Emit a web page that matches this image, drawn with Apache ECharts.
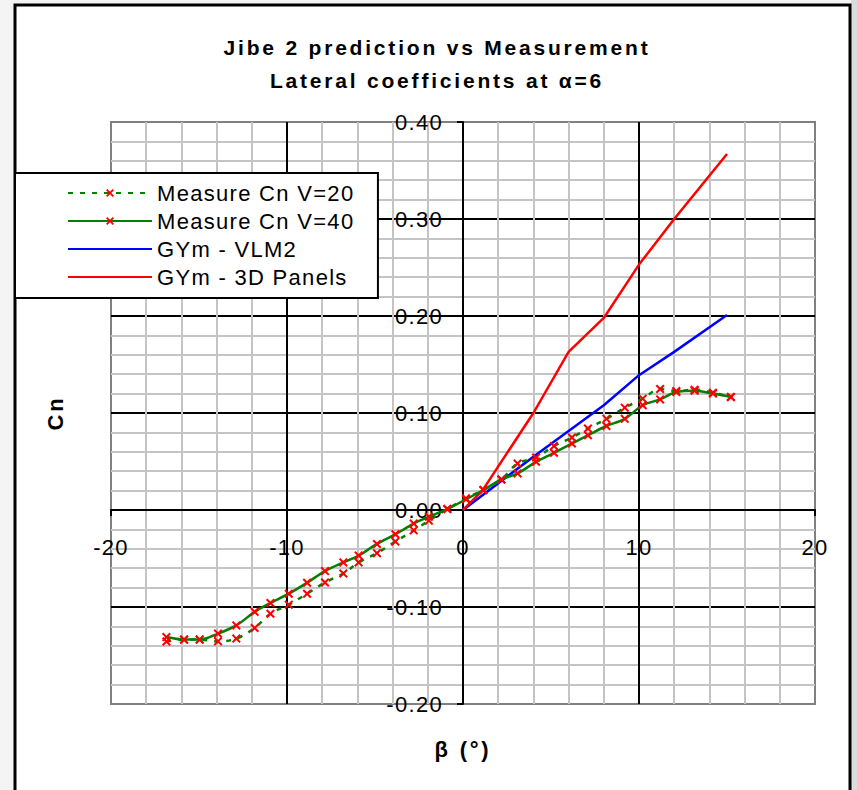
<!DOCTYPE html>
<html>
<head>
<meta charset="utf-8">
<script src="https://cdn.jsdelivr.net/npm/echarts@6/dist/echarts.min.js"></script>
<style>
html,body{margin:0;padding:0;background:#f4f4f4;}
#chart{width:857px;height:790px;}
#chart text{letter-spacing:1.3px;}
#chart text[style*="bold"]{letter-spacing:2.8px;}
</style>
</head>
<body>
<div id="chart"></div>
<script>
// ---- data ----
const titleLines = ['Jibe 2 prediction vs Measurement', 'Lateral coefficients at \u03b1=6'];
const xName = '\u03b2 (\u00b0)';
const yName = 'Cn';
const seriesNames = ['Measure Cn V=20', 'Measure Cn V=40', 'GYm - VLM2', 'GYm - 3D Panels'];

const betaMeas = [-16.85,-15.85,-14.96,-13.92,-12.88,-11.84,-10.94,-9.90,-8.86,-7.84,-6.80,-5.93,-4.89,-3.84,-2.80,-1.94,-0.89,0.17,1.16,2.18,3.10,4.15,5.17,6.19,7.10,8.15,9.19,10.21,11.20,12.12,13.16,14.20,15.22];
const cnV20 = [-0.1356,-0.1336,-0.1336,-0.1354,-0.1326,-0.1216,-0.1069,-0.0976,-0.0863,-0.0747,-0.0655,-0.054,-0.0445,-0.0326,-0.021,-0.011,0.001,0.012,0.0206,0.0315,0.048,0.054,0.066,0.0747,0.084,0.094,0.1055,0.1148,0.1247,0.1226,0.124,0.121,0.1165];
const cnV40 = [-0.131,-0.1336,-0.1336,-0.1274,-0.119,-0.105,-0.0959,-0.0863,-0.075,-0.063,-0.054,-0.047,-0.035,-0.025,-0.014,-0.007,0.001,0.011,0.0206,0.0315,0.0377,0.0497,0.059,0.0685,0.077,0.0866,0.094,0.108,0.114,0.1216,0.123,0.12,0.1165];

const betaVLM = [0, 4, 8, 10, 12, 15];
const cnVLM = [0, 0.055, 0.108, 0.139, 0.163, 0.201];

const betaPanels = [0, 1.1, 4, 6, 8, 10, 12, 15];
const cnPanels = [0, 0.02, 0.1, 0.163, 0.198, 0.253, 0.3, 0.367];

const xTicks = {min: -20, max: 20, interval: 10};
const yTicks = {min: -0.2, max: 0.4, interval: 0.1};

// ---- build ----
const zip = (a, b) => a.map((v, i) => [v, b[i]]);
const xMark = 'path://M0,1.6 L1.6,0 L5,3.4 L8.4,0 L10,1.6 L6.6,5 L10,8.4 L8.4,10 L5,6.6 L1.6,10 L0,8.4 L3.4,5 Z';
const FONT = '"Liberation Sans", Arial, sans-serif';

const GRID = {left: 111, right: 42, top: 122, bottom: 86};
const W = 857, H = 790;
const plotW = W - GRID.left - GRID.right, plotH = H - GRID.top - GRID.bottom;
// axes cross at zero: offset the axis lines from the grid edges (derived from the scales)
const xAxisOffset = -plotH * (0 - yTicks.min) / (yTicks.max - yTicks.min);
const yAxisOffset = -plotW * (0 - xTicks.min) / (xTicks.max - xTicks.min);

const chart = echarts.init(document.getElementById('chart'), null, {renderer: 'svg'});
chart.setOption({
  backgroundColor: '#f4f4f4',
  animation: false,
  textStyle: {fontFamily: FONT},
  graphic: [
    {type: 'rect', z: -10, silent: true, shape: {x: 851, y: 0, width: 10, height: 790}, style: {fill: '#dcdcdc'}},
    {type: 'rect', z: -9, silent: true, shape: {x: 15, y: 5, width: 835, height: 800}, style: {fill: '#ffffff', stroke: '#000000', lineWidth: 3}}
  ],
  title: {
    text: titleLines.join('\n'),
    left: 432, top: 26, textAlign: 'center',
    textStyle: {fontFamily: FONT, fontWeight: 'bold', fontSize: 21, lineHeight: 33, color: '#000'}
  },
  legend: {
    orient: 'vertical',
    left: 15, top: 173,
    padding: [9, 43, 10, 52],
    itemGap: 6, itemWidth: 84, itemHeight: 10,
    backgroundColor: '#ffffff',
    borderColor: '#000000', borderWidth: 2,
    textStyle: {fontFamily: FONT, fontSize: 22, color: '#000', lineHeight: 22},
    data: [
      {name: seriesNames[0]},
      {name: seriesNames[1]},
      {name: seriesNames[2], itemStyle: {opacity: 0}},
      {name: seriesNames[3], itemStyle: {opacity: 0}}
    ]
  },
  grid: Object.assign({show: true, borderColor: '#808080', borderWidth: 2, backgroundColor: '#ffffff', containLabel: false, outerBoundsMode: 'none'}, GRID),
  xAxis: {
    type: 'value', min: xTicks.min, max: xTicks.max, interval: xTicks.interval,
    position: 'bottom', offset: xAxisOffset,
    name: xName, nameLocation: 'middle', nameGap: 228,
    nameTextStyle: {fontFamily: FONT, fontWeight: 'bold', fontSize: 22, color: '#000'},
    axisLine: {show: true, onZero: false, lineStyle: {color: '#000', width: 2}},
    axisTick: {show: true, length: 6, lineStyle: {color: '#000', width: 2}},
    axisLabel: {show: true, fontFamily: FONT, fontSize: 22, color: '#000', margin: 26},
    splitLine: {show: true, showMinLine: false, showMaxLine: false, lineStyle: {color: '#000', width: 2}},
    minorTick: {show: false, splitNumber: 5},
    minorSplitLine: {show: true, lineStyle: {color: '#c4c4c4', width: 2}}
  },
  yAxis: {
    type: 'value', min: yTicks.min, max: yTicks.max, interval: yTicks.interval,
    position: 'left', offset: yAxisOffset,
    name: yName, nameLocation: 'middle', nameGap: 397, nameRotate: 90,
    nameTextStyle: {fontFamily: FONT, fontWeight: 'bold', fontSize: 22, color: '#000'},
    axisLine: {show: true, onZero: false, lineStyle: {color: '#000', width: 2}},
    axisTick: {show: true, length: 6, lineStyle: {color: '#000', width: 2}},
    axisLabel: {show: true, fontFamily: FONT, fontSize: 22, color: '#000', margin: 20, formatter: v => v.toFixed(2)},
    splitLine: {show: true, showMinLine: false, showMaxLine: false, lineStyle: {color: '#000', width: 2}},
    minorTick: {show: false, splitNumber: 5},
    minorSplitLine: {show: true, lineStyle: {color: '#c4c4c4', width: 2}}
  },
  series: [
    {
      name: seriesNames[0], type: 'line', data: zip(betaMeas, cnV20), smooth: 0.35,
      symbol: xMark, symbolSize: 9,
      itemStyle: {color: '#ff0000'},
      lineStyle: {color: '#008000', width: 2.5, type: [5, 7]},
      z: 4
    },
    {
      name: seriesNames[1], type: 'line', data: zip(betaMeas, cnV40), smooth: 0.35,
      symbol: xMark, symbolSize: 9,
      itemStyle: {color: '#ff0000'},
      lineStyle: {color: '#008000', width: 2.5},
      z: 5
    },
    {
      name: seriesNames[2], type: 'line', data: zip(betaVLM, cnVLM),
      symbol: 'none', itemStyle: {color: '#0000ff'},
      lineStyle: {color: '#0000ff', width: 2.5}, z: 3
    },
    {
      name: seriesNames[3], type: 'line', data: zip(betaPanels, cnPanels),
      symbol: 'none', itemStyle: {color: '#ff0000'},
      lineStyle: {color: '#ff0000', width: 2.5}, z: 3
    }
  ]
});
</script>
</body>
</html>
